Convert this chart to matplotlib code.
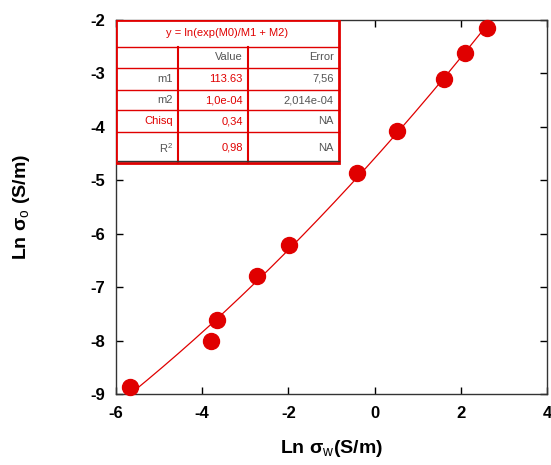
import matplotlib.pyplot as plt
import numpy as np
from matplotlib.patches import Rectangle

plt.rcParams['font.family'] = ['Liberation Sans', 'DejaVu Sans']
plt.rcParams['axes.unicode_minus'] = False
plt.rcParams['mathtext.fontset'] = 'custom'
plt.rcParams['mathtext.rm'] = 'Liberation Sans'
plt.rcParams['mathtext.bf'] = 'Liberation Sans:bold'

# data
ln_sw = np.array([-5.67, -3.79, -3.65, -2.72, -1.98, -0.40, 0.51, 1.60, 2.09, 2.60])
ln_s0 = np.array([-8.87, -8.00, -7.61, -6.80, -6.22, -4.87, -4.08, -3.11, -2.62, -2.15])

col_heads = ["", "Value", "Error"]
row_names = ["m1", "m2", "Chisq", "R$^2$"]
values = ["113.63", "1,0e-04", "0,34", "0,98"]
errors = ["7,56", "2,014e-04", "NA", "NA"]
fit_title = "y = ln(exp(M0)/M1 + M2)"

red = '#e00000'
gray = '#555555'

fig = plt.figure(figsize=(5.51, 4.65), dpi=100)
ax = fig.add_axes([0.2105, 0.1527, 0.7822, 0.8043])

# smooth fit curve through the data
coef = np.polyfit(ln_sw, ln_s0, 2)
xs = np.linspace(-6, 3, 200)
ax.plot(xs, np.polyval(coef, xs), color=red, lw=0.9, zorder=2)
ax.plot(ln_sw, ln_s0, 'o', color=red, ms=11.5, zorder=3, clip_on=False)

ax.set_xlim(-6, 4)
ax.set_ylim(-9, -2)
ax.set_xticks([-6, -4, -2, 0, 2, 4])
ax.set_yticks(range(-9, -1))
ax.tick_params(direction='in', top=True, right=True, length=5, width=1,
               labelsize=12)
ax.tick_params(axis='x', pad=9)
ax.tick_params(axis='y', pad=8)
for lab in ax.get_xticklabels() + ax.get_yticklabels():
    lab.set_fontweight('bold')
for s in ax.spines.values():
    s.set_linewidth(1)
    s.set_color('#333333')

ax.set_xlabel('Ln σ$_{\\mathrm{w}}$(S/m)', fontsize=14, fontweight='bold', labelpad=12)
ax.set_ylabel('Ln σ$_{\\mathrm{o}}$ (S/m)', fontsize=14, fontweight='bold', labelpad=42)

# fit result table (axes fraction coordinates)
x0, x1 = 0.0, 0.517
cols = [0.0, 0.144, 0.306, 0.517]
rows = [1.0, 0.928, 0.872, 0.813, 0.759, 0.700, 0.617]
tr = ax.transAxes
ax.add_patch(Rectangle((x0, rows[-1]), x1 - x0, rows[0] - rows[-1], transform=tr,
                       facecolor='white', edgecolor=red, lw=2, zorder=5))
for y in rows[1:-1]:
    ax.plot([x0, x1], [y, y], color=red, lw=1, transform=tr, zorder=6)
for x in cols[1:3]:
    ax.plot([x, x], [rows[1], rows[-1]], color=red, lw=1.5, transform=tr, zorder=6)
ax.plot([x0 + 0.004, x1], [rows[-1] + 0.006] * 2, color='#333333', lw=1, transform=tr, zorder=6)

ax.text((x0 + x1) / 2, (rows[0] + rows[1]) / 2, fit_title, transform=tr,
        ha='center', va='center', fontsize=8, color=red, zorder=7)
cells = [col_heads] + [[r, v, e] for r, v, e in zip(row_names, values, errors)]
colors = [[gray, gray, gray], [gray, red, gray], [gray, red, gray],
          [red, red, gray], [gray, red, gray]]
for i, row in enumerate(cells):
    yc = (rows[i + 1] + rows[i + 2]) / 2
    for j, txt in enumerate(row):
        ax.text(cols[j + 1] - 0.012, yc, txt, transform=tr, ha='right', va='center',
                fontsize=8, color=colors[i][j], zorder=7)

fig.savefig('out.png', dpi=100)
